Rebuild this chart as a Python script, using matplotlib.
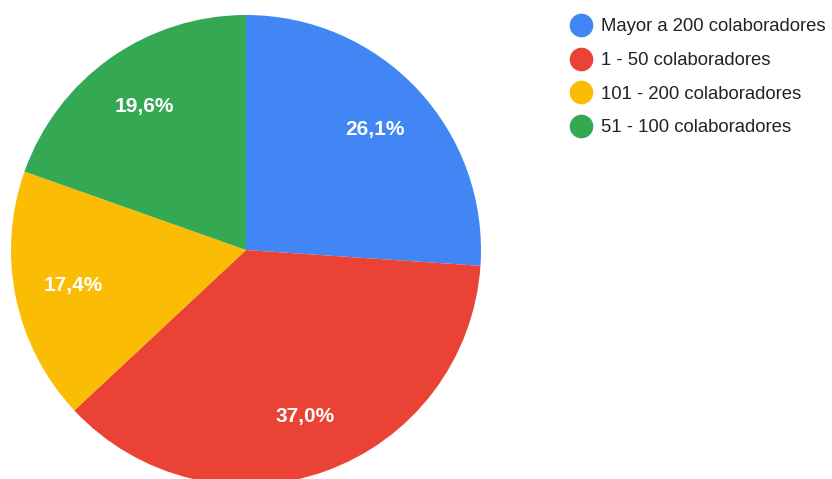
import matplotlib
matplotlib.use("Agg")
import matplotlib.pyplot as plt
from matplotlib.lines import Line2D

plt.rcParams['font.family'] = ['Liberation Sans', 'DejaVu Sans']

categories = ["Mayor a 200 colaboradores", "1 - 50 colaboradores",
              "101 - 200 colaboradores", "51 - 100 colaboradores"]
shares = [26.1, 37.0, 17.4, 19.6]
colors = ["#4285F4", "#EA4335", "#FBBC04", "#34A853"]

W, H = 832, 479
fig = plt.figure(figsize=(W / 100, H / 100), dpi=100)

# pie axes placed in pixel terms: centre (246, 250), radius 235
cx, cy, r = 246, 250, 235
ax = fig.add_axes([(cx - r) / W, (H - cy - r) / H, 2 * r / W, 2 * r / H])

wedges, texts, autotexts = ax.pie(
    shares, colors=colors, startangle=90, counterclock=False, radius=1,
    autopct=lambda p: f"{p:.1f}%".replace('.', ','), pctdistance=0.75,
    textprops=dict(color='white', fontsize=15, fontweight='bold'),
    wedgeprops=dict(linewidth=0))
for w in wedges:
    w.set_clip_on(False)
ax.set_xlim(-1, 1)
ax.set_ylim(-1, 1)
ax.set_aspect('equal')
ax.axis('off')

handles = [Line2D([0], [0], marker='o', linestyle='none', markersize=16,
                  markerfacecolor=c, markeredgecolor=c) for c in colors]
fig.legend(handles, categories, loc='upper left',
           bbox_to_anchor=(564 / W, 1 - 11 / H), frameon=False,
           fontsize=13.3, labelcolor='#222222', handlelength=1.0,
           handletextpad=0.6, labelspacing=0.9, borderaxespad=0)

fig.savefig("out.png", dpi=100, facecolor='white')
